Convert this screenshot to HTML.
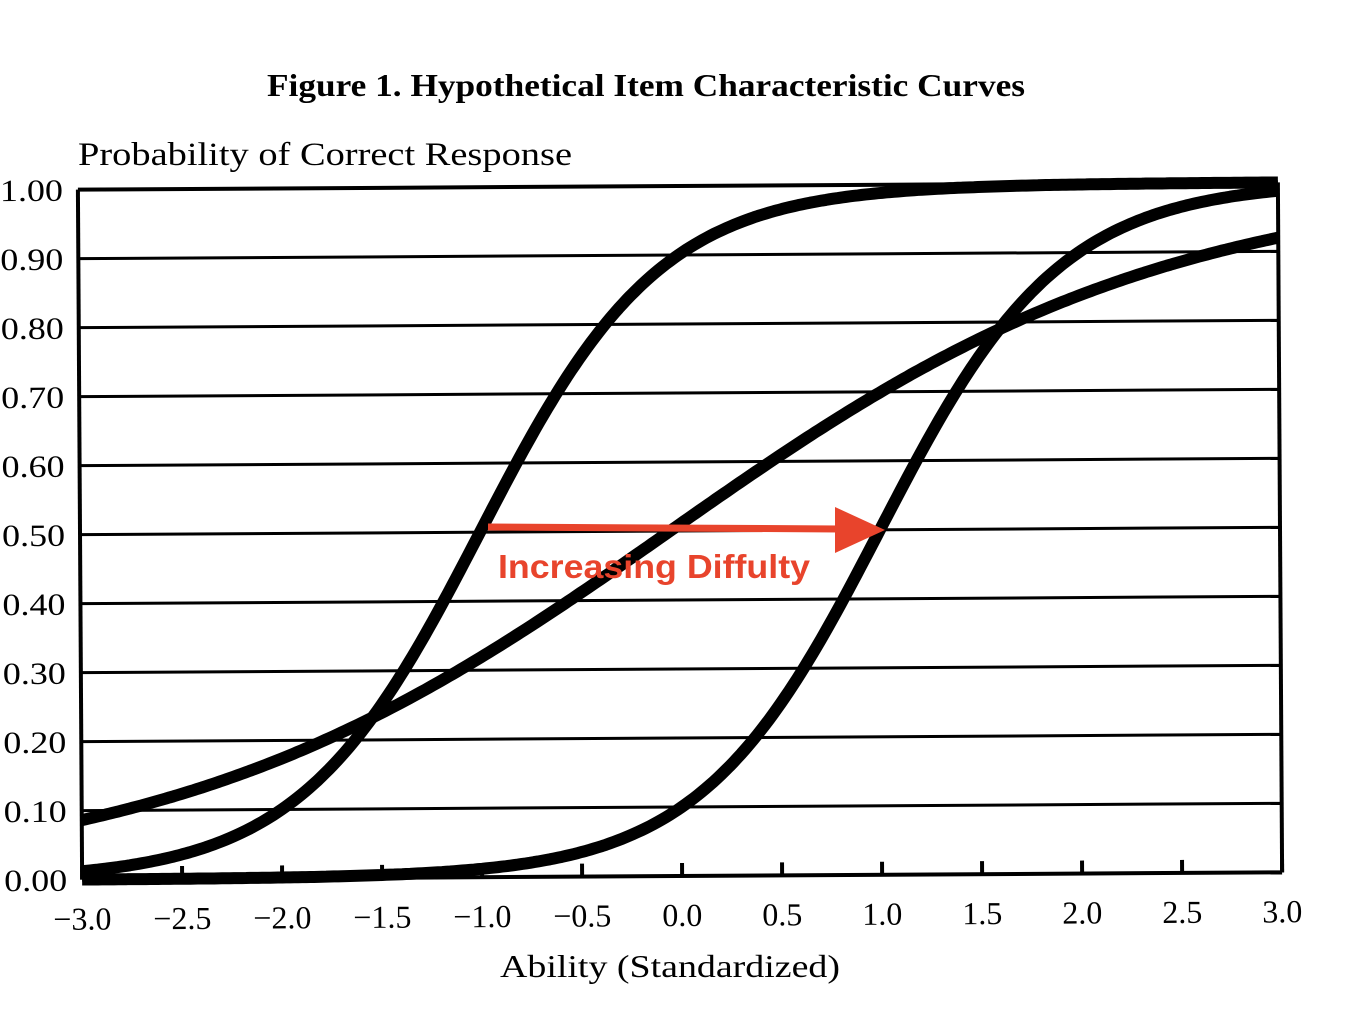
<!DOCTYPE html>
<html><head><style>
html,body{margin:0;padding:0;background:#fff;}
svg{display:block;}
</style></head><body>
<svg id="s" width="1358" height="1030" xmlns="http://www.w3.org/2000/svg">
<rect width="1358" height="1030" fill="#fff"/>
<text x="267" y="96" textLength="758" lengthAdjust="spacingAndGlyphs" font-family="Liberation Serif, serif" font-weight="bold" font-size="32">Figure 1. Hypothetical Item Characteristic Curves</text>
<text x="78" y="165" textLength="494" lengthAdjust="spacingAndGlyphs" font-family="Liberation Serif, serif" font-size="33">Probability of Correct Response</text>
<g id="plot" transform="rotate(-0.35 680 530)"></g>
<text x="500" y="977" textLength="340" lengthAdjust="spacingAndGlyphs" font-family="Liberation Serif, serif" font-size="32">Ability (Standardized)</text>
<line x1="488" y1="527" x2="840" y2="529" stroke="#e8442c" stroke-width="7"/>
<polygon points="835,507 885,530 835,553" fill="#e8442c"/>
<text x="498" y="578" textLength="312" lengthAdjust="spacingAndGlyphs" font-family="Liberation Sans, sans-serif" font-weight="bold" font-size="33" fill="#e8442c">Increasing Diffulty</text>
</svg>
<script>
var g=document.getElementById('plot'),NS='http://www.w3.org/2000/svg';
var L=80,R=1280,T=186,B=876;
function X(v){return L+(v+3)*200;}
function Y(p){return B-(B-T)*p;}
function el(n,a,t){var e=document.createElementNS(NS,n);for(var k in a)e.setAttribute(k,a[k]);if(t)e.textContent=t;g.appendChild(e);return e;}
for(var i=0;i<=10;i++){var y=Y(i/10);el('line',{x1:L,x2:R,y1:y,y2:y,stroke:'#000','stroke-width':i==0||i==10?4:3});
el('text',{x:2,y:y+11,textLength:63,lengthAdjust:'spacingAndGlyphs','font-family':'Liberation Serif, serif','font-size':31},(i/10).toFixed(2));}
el('line',{x1:L,x2:L,y1:T,y2:B,stroke:'#000','stroke-width':4});
el('line',{x1:R,x2:R,y1:T,y2:B,stroke:'#000','stroke-width':4});
for(var v=-3;v<=3.001;v+=0.5){var x=X(v);el('line',{x1:x,x2:x,y1:B,y2:B-13,stroke:'#000','stroke-width':4});
var s=(v<0?'\u2212':'')+Math.abs(v).toFixed(1);
el('text',{x:x,y:B+50,'text-anchor':'middle','font-family':'Liberation Serif, serif','font-size':32},s);}
function curve(k,b){var d='';for(var v=-3;v<=3.0001;v+=0.02){var p=1/(1+Math.exp(-k*(v-b)));d+=(d?'L':'M')+X(v).toFixed(1)+','+Y(p).toFixed(1);}
el('path',{d:d,fill:'none',stroke:'#000','stroke-width':12,'stroke-linejoin':'round'});}
curve(2.197,-1);curve(0.8,-0.05);curve(2.197,1);
</script>
</body></html>
